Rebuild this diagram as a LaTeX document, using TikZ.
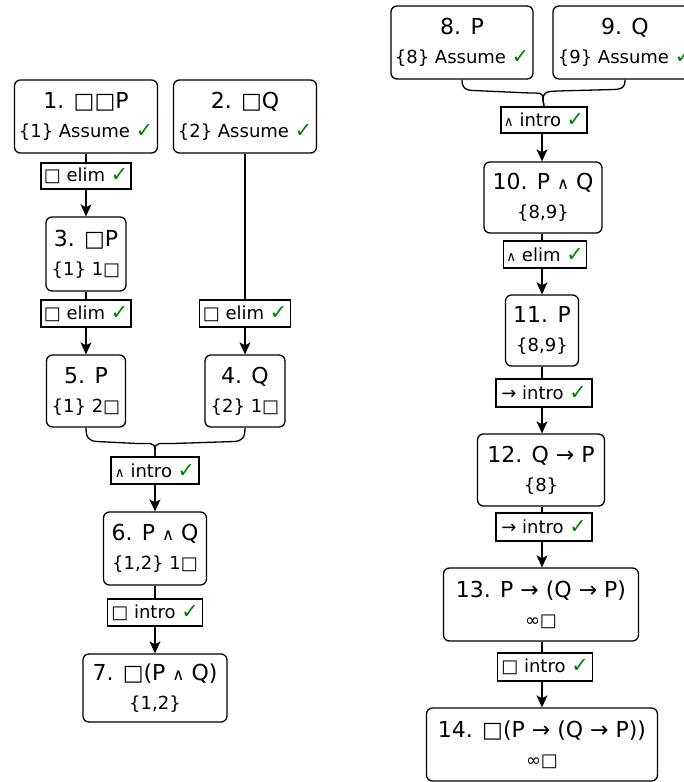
\documentclass[tikz,border=0pt]{standalone}
\usepackage{fontspec}
\setmainfont{DejaVu Sans}
\usetikzlibrary{arrows.meta}
\definecolor{okgreen}{RGB}{0,128,0}
\newcommand{\ok}{\textcolor{okgreen}{\scalebox{1.15}{✓}}}
\newcommand{\bx}{□}
\newcommand{\conj}{\scalebox{0.75}{∧}}
\newcommand{\subline}[1]{{\fontsize{18}{29}\selectfont #1}}

\begin{document}
\begin{tikzpicture}[x=1pt, y=-1pt,
  stmt/.style={draw, rounded corners=6pt, line width=1.3pt, align=center,
    inner sep=0pt, font=\fontsize{22}{29}\selectfont},
  rulebox/.style={draw, line width=1.3pt, inner sep=0pt,
    font=\fontsize{18}{18}\selectfont},
  sz/.style 2 args={minimum width=#1pt, minimum height=#2pt},
  link/.style={line width=1.3pt},
  arr/.style={link, -{Stealth[length=12pt, width=11pt, inset=3pt]}}]
\useasboundingbox (0,0) rectangle (683,782);

% ---- left proof: □□P, □Q ⊢ □(P ∧ Q) ----
\node[stmt, sz={143}{73}] (n1) at (86,116.5) {1. \bx\bx P\\\subline{\{1\} Assume \ok}};
\node[stmt, sz={143}{73}] (n2) at (245,116.5) {2. \bx Q\\\subline{\{2\} Assume \ok}};
\node[rulebox, sz={90}{26}] (r3) at (86,176) {\bx{} elim \ok};
\node[stmt, sz={80}{74}] (n3) at (86,254) {3. \bx P\\\subline{\{1\} 1\bx}};
\node[rulebox, sz={90}{27}] (r5) at (86,313.5) {\bx{} elim \ok};
\node[stmt, sz={79}{72}] (n5) at (86,391) {5. P\\\subline{\{1\} 2\bx}};
\node[rulebox, sz={91}{27}] (r4) at (245,313.5) {\bx{} elim \ok};
\node[stmt, sz={80}{72}] (n4) at (245,391) {4. Q\\\subline{\{2\} 1\bx}};
\node[rulebox, sz={88}{27}] (r6) at (155,470.5) {\conj{} intro \ok};
\node[stmt, sz={103}{73}] (n6) at (155,548.5) {6. P \conj{} Q\\\subline{\{1,2\} 1\bx}};
\node[rulebox, sz={95}{27}] (r7) at (155,612.5) {\bx{} intro \ok};
\node[stmt, sz={144}{68}] (n7) at (155,688) {7. \bx(P \conj{} Q)\\\subline{\{1,2\}}};

\draw[link] (n1) -- (r3);
\draw[arr] (r3) -- (n3);
\draw[link] (n3) -- (r5);
\draw[arr] (r5) -- (n5);
\draw[link] (n2) -- (r4);
\draw[arr] (r4) -- (n4);
\draw[link] (n5.south) .. controls (86,438) and (89,441) .. (97,441.5)
  -- (137,443.5) .. controls (149,444) and (155,441) .. (155,450) -- (r6.north);
\draw[link] (n4.south) .. controls (245,438) and (242,441) .. (234,441.5)
  -- (173,443.5) .. controls (161,444) and (155,441) .. (155,450) -- (r6.north);
\draw[arr] (r6) -- (n6);
\draw[link] (n6) -- (r7);
\draw[arr] (r7) -- (n7);

% ---- right proof: ⊢ □(P → (Q → P)) ----
\node[stmt, sz={142}{73}] (n8) at (462,42.5) {8. P\\\subline{\{8\} Assume \ok}};
\node[stmt, sz={144}{73}] (n9) at (625,42.5) {9. Q\\\subline{\{9\} Assume \ok}};
\node[rulebox, sz={86}{26}] (r10) at (544,120) {\conj{} intro \ok};
\node[stmt, sz={118}{71}] (n10) at (543,197.5) {10. P \conj{} Q\\\subline{\{8,9\}}};
\node[rulebox, sz={83}{27}] (r11) at (545,254.5) {\conj{} elim \ok};
\node[stmt, sz={73}{71}] (n11) at (542,330.5) {11. P\\\subline{\{8,9\}}};
\node[rulebox, sz={96}{28}] (r12) at (544,393) {→ intro \ok};
\node[stmt, sz={127}{72}] (n12) at (541,470) {12. Q → P\\\subline{\{8\}}};
\node[rulebox, sz={96}{28}] (r13) at (544,527) {→ intro \ok};
\node[stmt, sz={195}{73}] (n13) at (541,604.5) {13. P → (Q → P)\\\subline{∞\bx}};
\node[rulebox, sz={95}{28}] (r14) at (545,667) {\bx{} intro \ok};
\node[stmt, sz={231}{73}] (n14) at (542,744.5) {14. \bx(P → (Q → P))\\\subline{∞\bx}};

\draw[link] (n8.south) .. controls (462,88) and (465,90) .. (473,90.5)
  -- (530,93) .. controls (539,93.5) and (543,91) .. (543,100) -- (r10.south |- r10.north);
\draw[link] (n9.south) .. controls (625,88) and (622,89) .. (614,89.5)
  -- (558,91) .. controls (548,91.5) and (543,91) .. (543,100) -- (r10.south |- r10.north);
\draw[arr] (r10.south -| n11) -- (n10.north -| n11);
\draw[link] (n10.south -| n11) -- (r11.north -| n11);
\draw[arr] (r11.south -| n11) -- (n11.north);
\draw[link] (n11.south) -- (r12.north -| n11);
\draw[arr] (r12.south -| n11) -- (n12.north -| n11);
\draw[link] (n12.south -| n11) -- (r13.north -| n11);
\draw[arr] (r13.south -| n11) -- (n13.north -| n11);
\draw[link] (n13.south -| n11) -- (r14.north -| n11);
\draw[arr] (r14.south -| n11) -- (n14.north -| n11);
\end{tikzpicture}
\end{document}
